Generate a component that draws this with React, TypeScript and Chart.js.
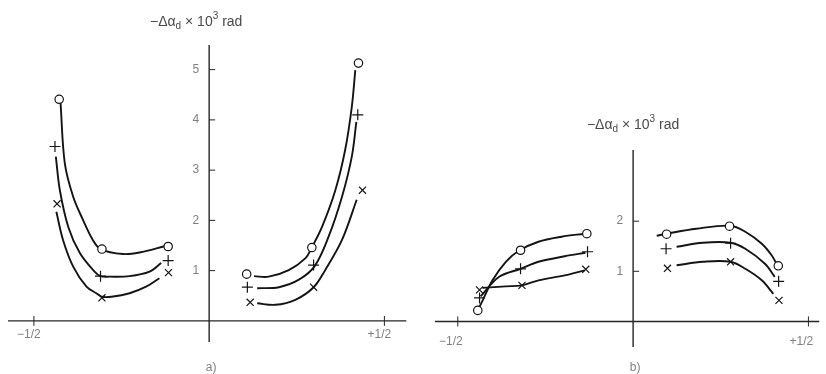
import React, { useEffect, useRef } from "react";
import { Chart, registerables } from "chart.js";

Chart.register(...registerables);

type P = [number, number];

// ---------- shared axis data ----------
const xTickValues = [-0.5, 0.5];
const xTickLabels = ["−1/2", "+1/2"];

// ---------- panel a) ----------
const aYTicks = [1, 2, 3, 4, 5];
const aCircleMarks: P[] = [[-0.428, 4.41], [-0.306, 1.43], [-0.117, 1.48], [0.107, 0.93], [0.293, 1.46], [0.426, 5.13]];
const aPlusMarks: P[] = [[-0.44, 3.47], [-0.31, 0.89], [-0.117, 1.2], [0.109, 0.67], [0.298, 1.11], [0.424, 4.1]];
const aCrossMarks: P[] = [[-0.434, 2.33], [-0.306, 0.46], [-0.116, 0.96], [0.117, 0.37], [0.298, 0.67], [0.4375, 2.6]];

const aCircleCurveL: P[] = [[-0.424, 4.33], [-0.412, 3.14], [-0.388, 2.47], [-0.36, 2.01], [-0.332, 1.61], [-0.31, 1.43], [-0.246, 1.33], [-0.199, 1.36], [-0.125, 1.49]];
const aPlusCurveL: P[] = [[-0.4375, 3.27], [-0.426, 2.6], [-0.402, 1.87], [-0.369, 1.35], [-0.327, 0.98], [-0.31, 0.89], [-0.284, 0.88], [-0.227, 0.89], [-0.17, 0.98], [-0.137, 1.15]];
const aCrossCurveL: P[] = [[-0.436, 2.17], [-0.417, 1.61], [-0.388, 1.08], [-0.35, 0.68], [-0.322, 0.55], [-0.306, 0.48], [-0.279, 0.48], [-0.227, 0.55], [-0.18, 0.68], [-0.142, 0.85]];
const aCircleCurveR: P[] = [[0.128, 0.89], [0.17, 0.88], [0.227, 1.01], [0.275, 1.25], [0.292, 1.45], [0.322, 1.87], [0.36, 2.6], [0.388, 3.4], [0.407, 4.26], [0.417, 4.99]];
const aPlusCurveR: P[] = [[0.137, 0.65], [0.199, 0.67], [0.256, 0.82], [0.301, 1.09], [0.341, 1.68], [0.379, 2.47], [0.407, 3.27], [0.42, 3.96]];
const aCrossCurveR: P[] = [[0.137, 0.35], [0.189, 0.32], [0.246, 0.42], [0.298, 0.67], [0.331, 1.01], [0.379, 1.61], [0.421, 2.41]];

// ---------- panel b) ----------
const bYTicks = [1, 2];
const bCircleMarks: P[] = [[-0.443, 0.22], [-0.321, 1.42], [-0.132, 1.75], [0.0955, 1.74], [0.275, 1.9], [0.414, 1.11]];
const bPlusMarks: P[] = [[-0.438, 0.47], [-0.321, 1.05], [-0.13, 1.39], [0.094, 1.45], [0.278, 1.56], [0.415, 0.8]];
const bCrossMarks: P[] = [[-0.438, 0.63], [-0.317, 0.72], [-0.135, 1.04], [0.098, 1.06], [0.278, 1.19], [0.416, 0.42]];

const bCircleCurveL: P[] = [[-0.443, 0.22], [-0.429, 0.42], [-0.401, 0.82], [-0.363, 1.19], [-0.326, 1.41], [-0.27, 1.59], [-0.204, 1.69], [-0.138, 1.75]];
const bPlusCurveL: P[] = [[-0.435, 0.5], [-0.382, 0.89], [-0.321, 1.05], [-0.27, 1.19], [-0.195, 1.3], [-0.136, 1.37]];
const bCrossCurveL: P[] = [[-0.43, 0.67], [-0.363, 0.7], [-0.317, 0.72], [-0.27, 0.82], [-0.195, 0.92], [-0.138, 1.02]];
const bCircleCurveR: P[] = [[0.0674, 1.71], [0.0955, 1.75], [0.18, 1.85], [0.278, 1.91], [0.32, 1.79], [0.367, 1.55], [0.395, 1.32], [0.412, 1.11]];
const bPlusCurveR: P[] = [[0.124, 1.49], [0.199, 1.57], [0.278, 1.57], [0.32, 1.45], [0.376, 1.15], [0.404, 0.89]];
const bCrossCurveR: P[] = [[0.124, 1.12], [0.199, 1.19], [0.278, 1.19], [0.32, 1.05], [0.367, 0.82], [0.4, 0.55]];

const toXY = (arr: P[]) => arr.map(([x, y]) => ({ x, y }));

const INK = "#141414";
const FONT = '"Liberation Sans", Arial, sans-serif';

interface PanelCfg {
  left: number;
  xMin: number; xMax: number; yMin: number; yMax: number;
  padding: { left: number; right: number; top: number; bottom: number };
  yTicks: number[];
  circles: P[]; pluses: P[]; crosses: P[];
  curves: P[][];
  label: string;
  titleDx: number; titleDy: number;
  xLabelDy: number; xLabelDx: number;
}

const panelA: PanelCfg = {
  left: 0,
  xMin: -0.574, xMax: 0.5625, yMin: -0.42, yMax: 5.49,
  padding: { left: 8, right: 5, top: 45, bottom: 32 },
  yTicks: aYTicks,
  circles: aCircleMarks, pluses: aPlusMarks, crosses: aCrossMarks,
  curves: [aCircleCurveL, aPlusCurveL, aCrossCurveL, aCircleCurveR, aPlusCurveR, aCrossCurveR],
  label: "a)",
  titleDx: -13, titleDy: -23,
  xLabelDy: 14, xLabelDx: -5,
};

const panelB: PanelCfg = {
  left: 413,
  xMin: -0.565, xMax: 0.531, yMin: -0.51, yMax: 3.42,
  padding: { left: 22, right: 1, top: 150, bottom: 27 },
  yTicks: bYTicks,
  circles: bCircleMarks, pluses: bPlusMarks, crosses: bCrossMarks,
  curves: [bCircleCurveL, bPlusCurveL, bCrossCurveL, bCircleCurveR, bPlusCurveR, bCrossCurveR],
  label: "b)",
  titleDx: 0, titleDy: -25,
  xLabelDy: 20, xLabelDx: -7,
};

function Panel({ cfg }: { cfg: PanelCfg }) {
  const ref = useRef<HTMLCanvasElement | null>(null);

  useEffect(() => {
    if (!ref.current) return;

    const axesPlugin = {
      id: "centeredAxes",
      beforeDatasetsDraw(chart: any) {
        const { ctx, chartArea } = chart;
        const xs = chart.scales.x;
        const ys = chart.scales.y;
        const x0 = xs.getPixelForValue(0);
        const y0 = ys.getPixelForValue(0);
        ctx.save();
        ctx.strokeStyle = "#262626";
        ctx.lineWidth = 1.4;
        ctx.beginPath();
        ctx.moveTo(chartArea.left, y0);
        ctx.lineTo(chartArea.right, y0);
        ctx.moveTo(x0, chartArea.top);
        ctx.lineTo(x0, chartArea.bottom);
        ctx.stroke();

        // y ticks (marks to the right, labels left)
        ctx.lineWidth = 1;
        ctx.fillStyle = "#808080";
        ctx.font = `12px ${FONT}`;
        ctx.textAlign = "right";
        ctx.textBaseline = "middle";
        cfg.yTicks.forEach((v) => {
          const py = ys.getPixelForValue(v);
          ctx.beginPath();
          ctx.moveTo(x0, py);
          ctx.lineTo(x0 + 6, py);
          ctx.stroke();
          ctx.fillText(String(v), x0 - 10, py);
        });

        // x ticks
        ctx.textAlign = "center";
        xTickValues.forEach((v, i) => {
          const px = xs.getPixelForValue(v);
          ctx.beginPath();
          ctx.moveTo(px, y0 - 5);
          ctx.lineTo(px, y0 + 5);
          ctx.stroke();
          ctx.fillText(xTickLabels[i], px + cfg.xLabelDx, y0 + cfg.xLabelDy);
        });

        // panel label
        ctx.font = `12px ${FONT}`;
        ctx.fillStyle = "#808080";
        ctx.fillText(cfg.label, x0 + 2, 368);

        // title: −Δα_d × 10^3 rad
        const big = `14px ${FONT}`;
        const small = `10px ${FONT}`;
        const parts: [string, string, number][] = [
          ["−Δα", big, 0],
          ["d", small, 4],
          [" × 10", big, 0],
          ["3", small, -6],
          [" rad", big, 0],
        ];
        let total = 0;
        parts.forEach(([t, f]) => { ctx.font = f; total += ctx.measureText(t).width; });
        let cx = x0 + cfg.titleDx - total / 2;
        const ty = chartArea.top + cfg.titleDy;
        ctx.textAlign = "left";
        ctx.fillStyle = "#4a4a4a";
        parts.forEach(([t, f, dy]) => {
          ctx.font = f;
          ctx.fillText(t, cx, ty + dy);
          cx += ctx.measureText(t).width;
        });
        ctx.restore();
      },
    };

    const curveSets = cfg.curves.map((c) => ({
      type: "line" as const,
      data: toXY(c),
      showLine: true,
      borderColor: INK,
      borderWidth: 1.9,
      pointRadius: 0,
      tension: 0.35,
      fill: false,
      order: 2,
    }));

    const markerBase = {
      showLine: false,
      borderColor: INK,
      backgroundColor: "#ffffff",
      borderWidth: 1.2,
      order: 0,
    };

    const chart = new Chart(ref.current, {
      type: "scatter",
      data: {
        datasets: [
          { ...markerBase, data: toXY(cfg.circles), pointStyle: "circle", pointRadius: 4.2 },
          { ...markerBase, data: toXY(cfg.pluses), pointStyle: "cross", pointRadius: 5.5 },
          { ...markerBase, data: toXY(cfg.crosses), pointStyle: "crossRot", pointRadius: 5 },
          ...curveSets,
        ] as any,
      },
      options: {
        responsive: false,
        animation: false,
        layout: { padding: cfg.padding },
        plugins: { legend: { display: false }, tooltip: { enabled: false }, title: { display: false } },
        scales: {
          x: { type: "linear", display: false, min: cfg.xMin, max: cfg.xMax },
          y: { type: "linear", display: false, min: cfg.yMin, max: cfg.yMax },
        },
      },
      plugins: [axesPlugin],
    });
    return () => chart.destroy();
  }, [cfg]);

  return (
    <canvas
      ref={ref}
      width={413}
      height={374}
      style={{ position: "absolute", left: cfg.left, top: 0, width: 413, height: 374 }}
    />
  );
}

export default function App() {
  return (
    <div style={{ position: "absolute", left: 0, top: 0, width: 826, height: 374, background: "#fff", overflow: "hidden" }}>
      <Panel cfg={panelA} />
      <Panel cfg={panelB} />
    </div>
  );
}
